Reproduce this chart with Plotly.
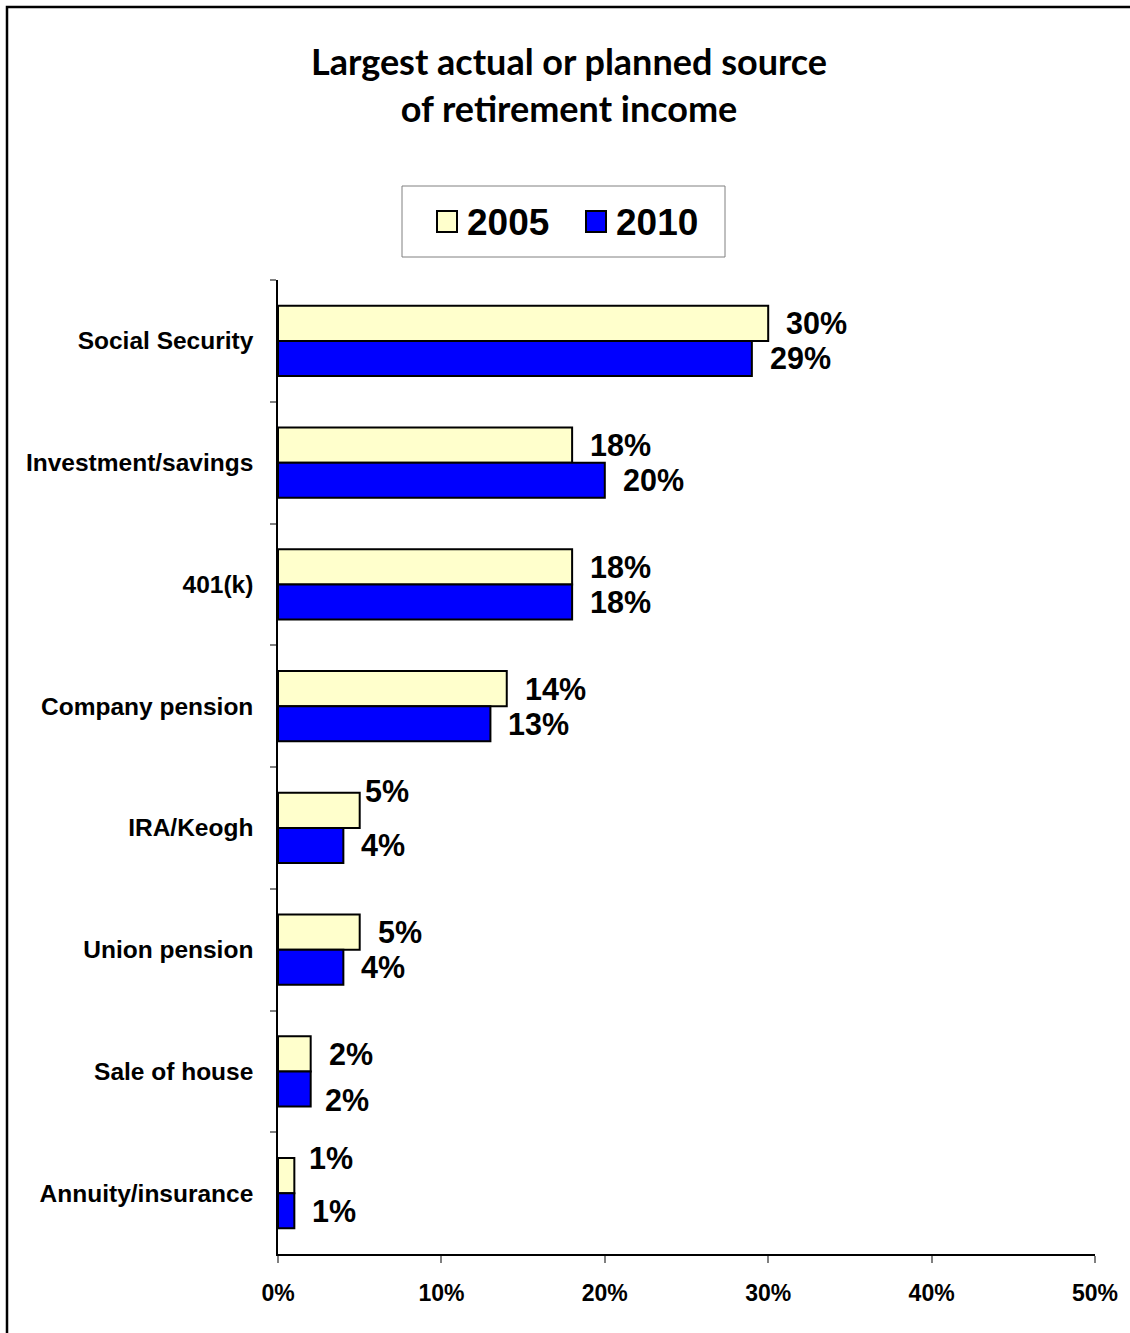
import plotly.graph_objects as go

# Survey data: share of respondents naming each as their largest retirement income source (%)
categories = ["Social Security", "Investment/savings", "401(k)", "Company pension",
              "IRA/Keogh", "Union pension", "Sale of house", "Annuity/insurance"]
years = ["2005", "2010"]
values_2005 = [30, 18, 18, 14, 5, 5, 2, 1]
values_2010 = [29, 20, 18, 13, 4, 4, 2, 1]
x_tick_values = [0, 10, 20, 30, 40, 50]
x_tick_labels = ["0%", "10%", "20%", "30%", "40%", "50%"]

title_text = "Largest actual or planned source<br>of retirement income"

# Styling
W, H = 1130, 1333
L, R, T, B = 278, 35, 280, 79
fill = {"2005": "#FFFFCC", "2010": "#0000FF"}
bar_font = dict(family="Liberation Sans, Arial", size=30.5, color="black", weight="bold")
bargap = 0.425

plot_w = W - L - R
plot_h = H - T - B


def px_x(px):
    return (px - L) / plot_w


def px_y(py):
    return (H - B - py) / plot_h


fig = go.Figure()
series = {"2005": values_2005, "2010": values_2010}
for yr in years:
    fig.add_trace(go.Bar(
        y=categories, x=series[yr], orientation="h", name=yr,
        marker=dict(color=fill[yr], line=dict(color="black", width=2)),
        showlegend=False, hoverinfo="x+y",
    ))

# Value labels beside each bar; a few are nudged so they don't crowd
nudge = {
    ("IRA/Keogh", "2005"): (3, 19),
    ("Sale of house", "2010"): (12, -11),
    ("Annuity/insurance", "2005"): (13, 18),
}
bar_w = (1 - bargap) / 2
annotations = []
for k, yr in enumerate(years):
    off = (k - 0.5) * bar_w
    for i, (cat, v) in enumerate(zip(categories, series[yr])):
        dx, dy = nudge.get((cat, yr), (16, 0))
        annotations.append(dict(
            x=v, y=i + off, xref="x", yref="y", text=f"{v}%",
            showarrow=False, xanchor="left", yanchor="middle",
            xshift=dx, yshift=dy, font=bar_font,
        ))

# Title
annotations.append(dict(
    x=px_x(569), y=px_y(84), xref="paper", yref="paper", text=title_text,
    showarrow=False, xanchor="center", yanchor="middle",
    font=dict(family="Lato", size=36, color="black", weight="bold"),
))

shapes = []
# Legend box with swatches
shapes.append(dict(type="rect", xref="paper", yref="paper",
                   x0=px_x(402), x1=px_x(725), y0=px_y(257), y1=px_y(186),
                   line=dict(color="#808080", width=1), fillcolor="white"))
legend_pos = {"2005": (437, 467), "2010": (586, 616)}
for yr in years:
    sx, tx = legend_pos[yr]
    shapes.append(dict(type="rect", xref="paper", yref="paper",
                       x0=px_x(sx), x1=px_x(sx + 20), y0=px_y(232), y1=px_y(211),
                       line=dict(color="black", width=2), fillcolor=fill[yr]))
    annotations.append(dict(
        x=px_x(tx - 2), y=px_y(222), xref="paper", yref="paper", text=yr,
        showarrow=False, xanchor="left", yanchor="middle",
        font=dict(family="Liberation Sans, Arial", size=37, color="black", weight="bold"),
    ))

# Outer chart border
shapes.append(dict(type="rect", xref="paper", yref="paper",
                   x0=px_x(7), x1=px_x(1160), y0=px_y(1360), y1=px_y(7),
                   line=dict(color="black", width=2.5), layer="below"))

axis_font = dict(family="Liberation Sans, Arial", color="black", weight="bold")

fig.update_layout(
    width=W, height=H,
    margin=dict(l=L, r=R, t=T, b=B, pad=0),
    paper_bgcolor="white", plot_bgcolor="white",
    barmode="group", bargap=bargap, bargroupgap=0,
    annotations=annotations, shapes=shapes,
    showlegend=False,
)
fig.update_xaxes(
    range=[0, 50], tickmode="array", tickvals=x_tick_values, ticktext=x_tick_labels,
    showgrid=False, zeroline=False,
    showline=True, linecolor="black", linewidth=1.5,
    ticks="outside", ticklen=7, tickcolor="#808080", tickwidth=1.5,
    tickfont=dict(size=23, **axis_font), ticklabelstandoff=11,
)
fig.update_yaxes(
    autorange="reversed", type="category",
    showgrid=False, zeroline=False,
    showline=True, linecolor="black", linewidth=1.5,
    ticks="outside", tickson="boundaries", ticklen=6, tickcolor="#808080", tickwidth=1.5,
    tickfont=dict(size=24.5, **axis_font), ticklabelstandoff=18,
)

fig.write_html("out.html")
